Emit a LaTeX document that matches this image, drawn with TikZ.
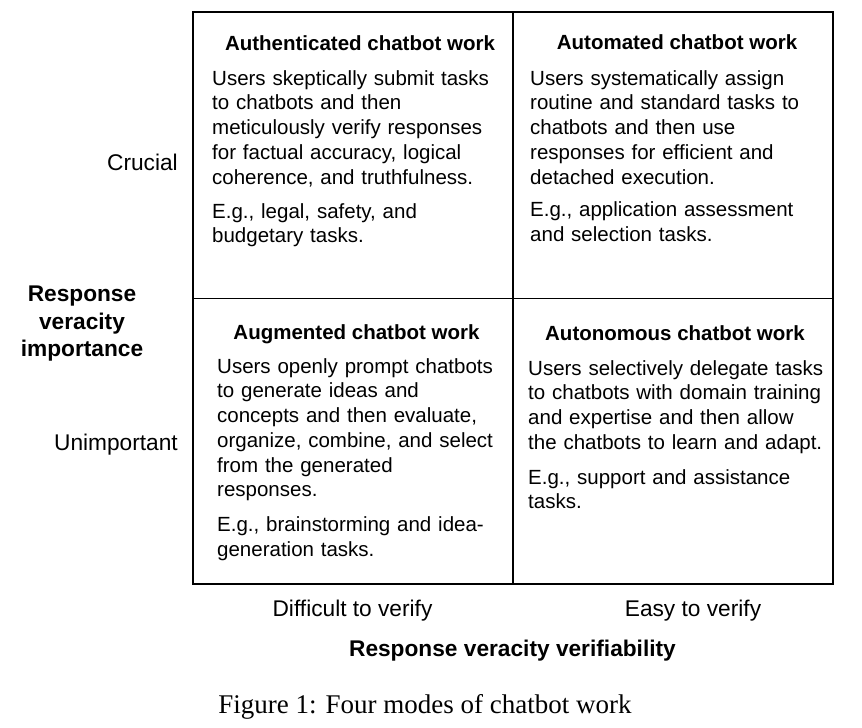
\documentclass[tikz,border=0pt]{standalone}
\usepackage{fontspec}
\setmainfont{Liberation Sans}
\newfontfamily\capfont{Liberation Serif}
\tikzset{
  outerline/.style={line width=2.4pt},
  innerline/.style={line width=1.4pt},
  bodytext/.style={anchor=north west, inner sep=0pt, text width=320pt, align=left,
    font=\fontsize{20.5}{24.7}\selectfont},
  headtext/.style={anchor=base, inner sep=0pt, font=\bfseries\fontsize{20.5}{24.7}\selectfont},
  sidelabel/.style={anchor=base east, inner sep=0pt, font=\fontsize{22.7}{27.5}\selectfont},
  axistitle/.style={inner sep=0pt, align=center, font=\bfseries\fontsize{22.7}{27.5}\selectfont},
  bottomlabel/.style={anchor=base, inner sep=0pt, font=\fontsize{22.7}{27.5}\selectfont},
  captiontext/.style={anchor=base, inner sep=0pt, font=\capfont\fontsize{27}{32}\selectfont}
}
\newcommand{\topstrut}{\rule{0pt}{15pt}}
\begin{document}
\begin{tikzpicture}[x=1pt,y=-1pt]
\useasboundingbox (0,0) rectangle (862,728);
% grid
\coordinate (nw) at (193,12);
\coordinate (se) at (833,584);
\coordinate (tm) at (513,12);
\coordinate (bm) at (513,584);
\coordinate (lm) at (193,298.5);
\coordinate (rm) at (833,298.5);
\draw[innerline] (tm) -- (bm);
\draw[innerline] (lm) -- (rm);
\draw[outerline] (nw) rectangle (se);

% top-left
\node[headtext] (h1) at (360,50) {Authenticated chatbot work};
\node[bodytext] (b1) at (212,70) {\topstrut Users skeptically submit tasks\\
to chatbots and then\\
meticulously verify responses\\
for factual accuracy, logical\\
coherence, and truthfulness.\\[9.5pt]
E.g., legal, safety, and\\
budgetary tasks.};

% top-right
\node[headtext] (h2) at (677,49) {Automated chatbot work};
\node[bodytext] (b2) at (530,70) {\topstrut Users systematically assign\\
routine and standard tasks to\\
chatbots and then use\\
responses for efficient and\\
detached execution.\\[8pt]
E.g., application assessment\\
and selection tasks.};

% bottom-left
\node[headtext] (h3) at (356.5,339) {Augmented chatbot work};
\node[bodytext] (b3) at (217,358) {\topstrut Users openly prompt chatbots\\
to generate ideas and\\
concepts and then evaluate,\\
organize, combine, and select\\
from the generated\\
responses.\\[10.5pt]
E.g., brainstorming and idea-\\
generation tasks.};

% bottom-right
\node[headtext] (h4) at (675,340) {Autonomous chatbot work};
\node[bodytext] (b4) at (528,360) {\topstrut Users selectively delegate tasks\\
to chatbots with domain training\\
and expertise and then allow\\
the chatbots to learn and adapt.\\[10pt]
E.g., support and assistance\\
tasks.};

% side labels
\node[sidelabel] (crucial) at (178,170) {Crucial};
\node[sidelabel] (unimp) at (178,450) {Unimportant};
\node[axistitle, anchor=north] (ytitle) at (82,284.7) {\rule{0pt}{17pt}Response\\veracity\\importance};

% bottom labels
\node[bottomlabel] (diff) at (352.5,616) {Difficult to verify};
\node[bottomlabel] (easy) at (693,616) {Easy to verify};
\node[axistitle, anchor=base] (xtitle) at (512.5,656.5) {Response veracity verifiability};
\node[captiontext] (cap) at (425,713) {Figure 1: Four modes of chatbot work};
\end{tikzpicture}
\end{document}
